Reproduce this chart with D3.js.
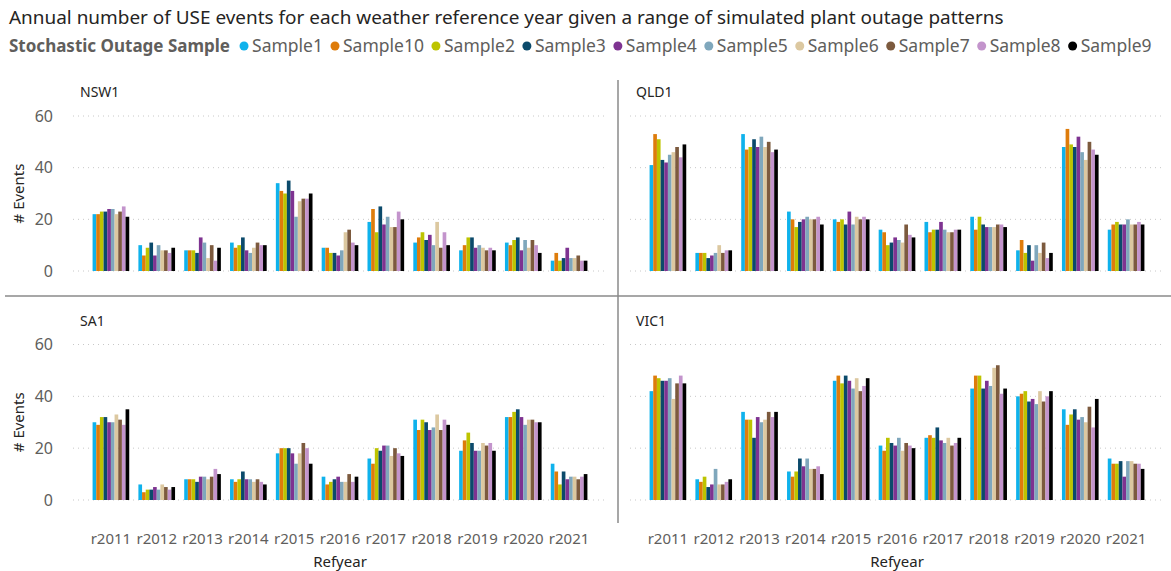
<!DOCTYPE html>
<html>
<head>
<meta charset="utf-8">
<script src="https://cdn.jsdelivr.net/npm/d3@7"></script>
<style>
  body { margin: 0; background: #fff; }
  svg text { font-family: "Noto Sans", "Open Sans", sans-serif; }
</style>
</head>
<body>
<div id="chart"></div>
<script>
// Categories and series
const years = ["r2011", "r2012", "r2013", "r2014", "r2015", "r2016", "r2017", "r2018", "r2019", "r2020", "r2021"];
const samples = ["Sample1", "Sample10", "Sample2", "Sample3", "Sample4", "Sample5", "Sample6", "Sample7", "Sample8", "Sample9"];
const sampleColors = ["#0FB2EC", "#DE7C0B", "#BDC400", "#0B4A6B", "#7E3391", "#7FA7BC", "#DCC8A0", "#7C5A3E", "#C394CC", "#000000"];
const yTicks = [0, 20, 40, 60];

// one row per refyear, values in sample order
const nsw1 = [
    [22, 22, 23, 23, 24, 24, 22, 23, 25, 21],
    [10, 6, 9, 11, 6, 10, 8, 8, 7, 9],
    [8, 8, 8, 7, 13, 11, 5, 10, 4, 9],
    [11, 9, 10, 13, 8, 7, 9, 11, 10, 10],
    [34, 31, 30, 35, 31, 21, 27, 28, 28, 30],
    [9, 9, 7, 7, 6, 8, 15, 16, 11, 10],
    [19, 24, 15, 25, 18, 21, 17, 17, 23, 20],
    [11, 13, 15, 12, 14, 10, 19, 9, 15, 10],
    [8, 10, 13, 13, 9, 10, 9, 8, 9, 8],
    [11, 10, 12, 13, 8, 12, 9, 12, 10, 7],
    [4, 7, 4, 5, 9, 5, 5, 6, 4, 4]
];
const qld1 = [
    [41, 53, 51, 43, 42, 45, 46, 48, 44, 49],
    [7, 7, 7, 5, 6, 7, 10, 7, 8, 8],
    [53, 47, 48, 51, 48, 52, 48, 50, 46, 47],
    [23, 20, 17, 19, 20, 21, 20, 20, 21, 18],
    [20, 19, 20, 18, 23, 18, 21, 20, 21, 20],
    [16, 15, 10, 11, 13, 12, 11, 18, 14, 13],
    [19, 15, 16, 16, 19, 16, 15, 15, 16, 16],
    [21, 16, 21, 18, 17, 17, 17, 18, 18, 17],
    [8, 12, 7, 10, 4, 10, 7, 11, 5, 7],
    [48, 55, 49, 48, 52, 46, 43, 50, 47, 45],
    [16, 18, 19, 18, 18, 20, 18, 18, 19, 18]
];
const sa1 = [
    [30, 29, 32, 32, 30, 30, 33, 31, 29, 35],
    [6, 3, 4, 4, 5, 4, 6, 5, 4, 5],
    [8, 8, 8, 7, 9, 9, 8, 9, 12, 10],
    [8, 7, 8, 11, 8, 8, 7, 8, 7, 6],
    [18, 20, 20, 20, 18, 14, 18, 22, 20, 14],
    [9, 6, 7, 8, 9, 7, 7, 10, 7, 9],
    [16, 14, 20, 19, 21, 21, 17, 20, 18, 17],
    [31, 27, 31, 30, 27, 28, 33, 27, 31, 29],
    [19, 23, 26, 22, 19, 19, 22, 21, 22, 19],
    [32, 32, 34, 35, 32, 29, 31, 31, 30, 30],
    [14, 11, 6, 11, 8, 9, 9, 8, 9, 10]
];
const vic1 = [
    [42, 48, 47, 46, 46, 47, 39, 45, 48, 45],
    [8, 7, 9, 5, 6, 12, 6, 6, 7, 8],
    [34, 31, 31, 24, 32, 30, 31, 34, 32, 34],
    [11, 9, 11, 16, 13, 16, 12, 12, 13, 10],
    [46, 48, 45, 48, 46, 43, 47, 42, 44, 47],
    [21, 19, 24, 22, 21, 24, 19, 22, 21, 20],
    [24, 25, 24, 28, 23, 22, 24, 21, 22, 24],
    [43, 48, 48, 43, 46, 44, 51, 52, 41, 43],
    [40, 41, 42, 38, 39, 37, 42, 38, 40, 42],
    [35, 29, 33, 35, 31, 32, 30, 36, 28, 39],
    [16, 14, 14, 15, 9, 15, 15, 14, 14, 12]
];

const W = 1171, H = 571;
const svg = d3.select("#chart").append("svg")
    .attr("width", W)
    .attr("height", H);

// title, sized so it spans about the same width as the original
const title = svg.append("text")
    .attr("x", 9)
    .attr("y", 24)
    .attr("font-size", "17px")
    .attr("fill", "#252423")
    .text("Annual number of USE events for each weather reference year given a range of simulated plant outage patterns");
const tw = title.node().getComputedTextLength();
title.attr("font-size", (17 * 995 / tw).toFixed(2) + "px");

// legend
const legend = svg.append("g").attr("transform", "translate(0,52)");
const legTitle = legend.append("text")
    .attr("x", 9)
    .attr("font-size", "17px")
    .attr("font-weight", "bold")
    .attr("fill", "#605E5C")
    .text("Stochastic Outage Sample");
let lx = 9 + legTitle.node().getComputedTextLength() + 14;
samples.forEach((s, i) => {
    legend.append("circle")
        .attr("cx", lx)
        .attr("cy", -6)
        .attr("r", 4.5)
        .attr("fill", sampleColors[i]);
    const t = legend.append("text")
        .attr("x", lx + 8)
        .attr("font-size", "17.5px")
        .attr("fill", "#605E5C")
        .text(s);
    lx += 8 + t.node().getComputedTextLength() + 12;
});

// panel layout
const panels = [
    { name: "NSW1", data: nsw1, left: true, top: true },
    { name: "QLD1", data: qld1, left: false, top: true },
    { name: "SA1", data: sa1, left: true, top: false },
    { name: "VIC1", data: vic1, left: false, top: false }
];

panels.forEach(p => {
    const g = svg.append("g");
    const xr = p.left ? [88, 592] : [645, 1149];
    const gridX = p.left ? [73, 607] : [630, 1163];
    const yr = p.top ? [271, 116] : [500, 344.5];

    const x = d3.scaleBand()
        .domain(years)
        .range(xr)
        .paddingInner(0.2)
        .paddingOuter(0.1);
    const xs = d3.scaleBand()
        .domain(samples)
        .range([0, x.bandwidth()])
        .padding(0);
    const y = d3.scaleLinear()
        .domain([0, 60])
        .range(yr);

    // gridlines
    g.selectAll(".grid")
        .data(yTicks)
        .enter()
        .append("line")
        .attr("x1", gridX[0])
        .attr("x2", gridX[1])
        .attr("y1", d => y(d))
        .attr("y2", d => y(d))
        .attr("stroke", "#C8C8C8")
        .attr("stroke-width", 1)
        .attr("stroke-dasharray", "1,4");

    // y axis labels only on left panels
    if (p.left) {
        const yAxis = g.append("g")
            .attr("transform", "translate(60,0)")
            .call(d3.axisLeft(y).tickValues(yTicks).tickSize(0).tickPadding(7));
        yAxis.select(".domain").remove();
        yAxis.selectAll("text")
            .attr("font-size", "16px")
            .attr("fill", "#605E5C")
            .style("font-family", "'Noto Sans', sans-serif");

        svg.append("text")
            .attr("transform", `translate(24,${(yr[0] + yr[1]) / 2}) rotate(-90)`)
            .attr("text-anchor", "middle")
            .attr("font-size", "15px")
            .attr("fill", "#252423")
            .text("# Events");
    }

    // panel title
    svg.append("text")
        .attr("x", p.left ? 80 : 636)
        .attr("y", p.top ? 97 : 326)
        .attr("font-size", "14px")
        .attr("fill", "#252423")
        .text(p.name);

    // bars
    const groups = g.selectAll(".year")
        .data(years)
        .enter()
        .append("g")
        .attr("transform", d => `translate(${x(d)},0)`);

    groups.selectAll("rect")
        .data((d, i) => samples.map((s, j) => ({ s: s, v: p.data[i][j], c: sampleColors[j] })))
        .enter()
        .append("rect")
        .attr("x", d => xs(d.s))
        .attr("width", xs.bandwidth())
        .attr("y", d => y(d.v))
        .attr("height", d => y(0) - y(d.v))
        .attr("fill", d => d.c);

    // x axis labels only on bottom panels
    if (!p.top) {
        const xAxis = g.append("g")
            .attr("transform", "translate(0,530)")
            .call(d3.axisBottom(x).tickSize(0).tickPadding(3));
        xAxis.select(".domain").remove();
        xAxis.selectAll("text")
            .attr("font-size", "15px")
            .attr("fill", "#605E5C")
            .style("font-family", "'Noto Sans', sans-serif");

        svg.append("text")
            .attr("x", (xr[0] + xr[1]) / 2)
            .attr("y", 567)
            .attr("text-anchor", "middle")
            .attr("font-size", "15px")
            .attr("fill", "#252423")
            .text("Refyear");
    }
});

// separators
svg.append("line")
    .attr("x1", 5).attr("x2", W)
    .attr("y1", 296).attr("y2", 296)
    .attr("stroke", "#8A8A8A").attr("stroke-width", 1.5);
svg.append("line")
    .attr("x1", 618).attr("x2", 618)
    .attr("y1", 80).attr("y2", 523)
    .attr("stroke", "#8A8A8A").attr("stroke-width", 1.5);
</script>
</body>
</html>
